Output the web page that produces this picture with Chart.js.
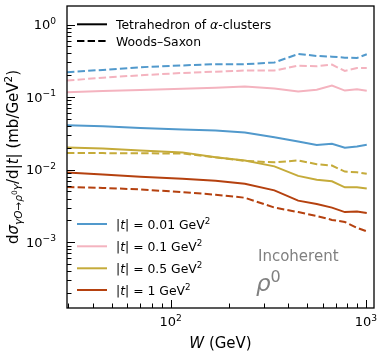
<!DOCTYPE html>
<html>
<head>
<meta charset="utf-8">
<script src="https://cdn.jsdelivr.net/npm/chart.js@4.4.1/dist/chart.umd.min.js"></script>
<style>
    html, body { margin: 0; padding: 0; background: #fff; }
</style>
</head>
<body>
<canvas id="chart" width="380" height="358"></canvas>
<script>
// photon-nucleon energy W (GeV)
const energies = [29.5, 45, 70, 115, 170, 240, 340, 450, 560, 670, 780, 900, 1010];

// tetrahedron of alpha-clusters (solid)
const tetra001 = [0.041, 0.0395, 0.0375, 0.0357, 0.0346, 0.0325, 0.028, 0.0244, 0.0218, 0.0227, 0.020, 0.0209, 0.022];
const tetra01 = [0.117, 0.121, 0.125, 0.130, 0.135, 0.140, 0.131, 0.119, 0.126, 0.144, 0.123, 0.128, 0.122];
const tetra05 = [0.0202, 0.0195, 0.0184, 0.0173, 0.0148, 0.0134, 0.0111, 0.0082, 0.00726, 0.0069, 0.0057, 0.0057, 0.0055];
const tetra1 = [0.00916, 0.0086, 0.0080, 0.0075, 0.00703, 0.0064, 0.00518, 0.00374, 0.00337, 0.0030, 0.0026, 0.00265, 0.00253];

// Woods-Saxon (dashed)
const ws001 = [0.22, 0.237, 0.258, 0.273, 0.284, 0.284, 0.30, 0.393, 0.369, 0.361, 0.349, 0.346, 0.389];
const ws01 = [0.169, 0.185, 0.20, 0.215, 0.224, 0.232, 0.232, 0.271, 0.266, 0.28, 0.229, 0.252, 0.252];
const ws05 = [0.0169, 0.0169, 0.0168, 0.0167, 0.0148, 0.0132, 0.0126, 0.0134, 0.0119, 0.0114, 0.0094, 0.0092, 0.0088];
const ws1 = [0.00576, 0.0056, 0.00534, 0.0049, 0.00452, 0.0041, 0.0030, 0.0026, 0.0023, 0.00203, 0.0019, 0.00158, 0.00141];

const tLabels = ['0.01', '0.1', '0.5', '1'];
const colors = ['#5199cc', '#f4b3bf', '#c5ab3a', '#b5410f'];
const xTickExps = [2, 3];
const yTickExps = [-3, -2, -1, 0];

const FONT = '"DejaVu Sans", sans-serif';

function pts(ys) {
    return energies.map((w, i) => ({ x: w, y: ys[i] }));
}

const solids = [tetra001, tetra01, tetra05, tetra1];
const dashes = [ws001, ws01, ws05, ws1];
const datasets = [];
for (let i = 0; i < 4; i++) {
    datasets.push({ label: 'tetra ' + tLabels[i], data: pts(solids[i]), borderColor: colors[i], borderWidth: 2, pointRadius: 0 });
    datasets.push({ label: 'ws ' + tLabels[i], data: pts(dashes[i]), borderColor: colors[i], borderWidth: 2, pointRadius: 0, borderDash: [7.4, 3.2] });
}

// draw a run of text pieces with different fonts / offsets
function drawRuns(ctx, x, y, runs, align) {
    let total = 0;
    for (const r of runs) {
        ctx.font = r.font;
        total += ctx.measureText(r.t).width;
    }
    let cx = x;
    if (align === 'center') cx = x - total / 2;
    if (align === 'right') cx = x - total;
    ctx.textAlign = 'left';
    ctx.textBaseline = 'alphabetic';
    for (const r of runs) {
        ctx.font = r.font;
        ctx.fillText(r.t, cx, y + (r.dy || 0));
        cx += ctx.measureText(r.t).width;
    }
}

function pow10Runs(e, size) {
    const exp = e < 0 ? '\u2212' + Math.abs(e) : String(e);
    return [
        { t: '10', font: size + 'px ' + FONT },
        { t: exp, font: (size * 0.7) + 'px ' + FONT, dy: -size * 0.42 }
    ];
}

const decorations = {
    id: 'decorations',
    afterDraw(chart) {
        const ctx = chart.ctx;
        const a = chart.chartArea;
        const xs = chart.scales.x;
        const ys = chart.scales.y;
        ctx.save();
        ctx.strokeStyle = '#000';
        ctx.fillStyle = '#000';
        ctx.setLineDash([]);

        // inward ticks
        ctx.lineWidth = 1;
        for (let k = -4; k <= 0; k++) {
            for (let m = 1; m <= 9; m++) {
                const v = m * Math.pow(10, k);
                if (v < ys.min || v > ys.max) continue;
                const py = Math.round(ys.getPixelForValue(v)) + 0.5;
                const len = m === 1 ? 8 : 4.5;
                ctx.beginPath();
                ctx.moveTo(a.left, py);
                ctx.lineTo(a.left + len, py);
                ctx.stroke();
            }
        }
        for (let k = 1; k <= 3; k++) {
            for (let m = 1; m <= 9; m++) {
                const v = m * Math.pow(10, k);
                if (v < xs.min || v > xs.max) continue;
                const px = Math.round(xs.getPixelForValue(v)) + 0.5;
                const len = m === 1 ? 8 : 4.5;
                ctx.beginPath();
                ctx.moveTo(px, a.bottom);
                ctx.lineTo(px, a.bottom - len);
                ctx.stroke();
            }
        }

        // frame
        ctx.lineWidth = 1.3;
        ctx.strokeRect(a.left, a.top, a.right - a.left, a.bottom - a.top);

        // tick labels
        for (const e of yTickExps) {
            const py = ys.getPixelForValue(Math.pow(10, e));
            drawRuns(ctx, 56, py + 4.5, pow10Runs(e, 13), 'right');
        }
        for (const e of xTickExps) {
            const px = xs.getPixelForValue(Math.pow(10, e));
            drawRuns(ctx, px, 326, pow10Runs(e, 13), 'center');
        }

        // axis titles
        const mid = (a.left + a.right) / 2;
        drawRuns(ctx, mid, 348, [
            { t: 'W', font: 'italic 15px ' + FONT },
            { t: ' (GeV)', font: '15px ' + FONT }
        ], 'center');

        ctx.save();
        ctx.translate(18, (a.top + a.bottom) / 2);
        ctx.rotate(-Math.PI / 2);
        drawRuns(ctx, 0, 0, [
            { t: 'd', font: '15px ' + FONT },
            { t: '\u03c3', font: 'italic 15px ' + FONT },
            { t: '\u03b3O', font: 'italic 10.5px ' + FONT, dy: 3.5 },
            { t: '\u2192', font: '10.5px ' + FONT, dy: 3.5 },
            { t: '\u03c1', font: 'italic 10.5px ' + FONT, dy: 3.5 },
            { t: '0', font: '7.5px ' + FONT, dy: -1 },
            { t: 'Y', font: 'italic 10.5px ' + FONT, dy: 3.5 },
            { t: '/d|', font: '15px ' + FONT },
            { t: 't', font: 'italic 15px ' + FONT },
            { t: '| (mb/GeV', font: '15px ' + FONT },
            { t: '2', font: '10.5px ' + FONT, dy: -6 },
            { t: ')', font: '15px ' + FONT }
        ], 'center');
        ctx.restore();

        // model legend
        ctx.lineWidth = 2;
        ctx.strokeStyle = '#000';
        const modelRows = [
            { y: 24.3, dash: [], runs: [
                { t: 'Tetrahedron of ', font: '12.4px ' + FONT },
                { t: '\u03b1', font: 'italic 12.4px ' + FONT },
                { t: '-clusters', font: '12.4px ' + FONT }
            ] },
            { y: 41, dash: [7.4, 3.2], runs: [
                { t: 'Woods\u2013Saxon', font: '12.4px ' + FONT }
            ] }
        ];
        for (const r of modelRows) {
            ctx.setLineDash(r.dash);
            ctx.beginPath();
            ctx.moveTo(77, r.y);
            ctx.lineTo(107, r.y);
            ctx.stroke();
            ctx.setLineDash([]);
            drawRuns(ctx, 116, r.y + 4.5, r.runs, 'left');
        }

        // |t| legend
        const rowY = [224, 246.3, 268.3, 290];
        for (let i = 0; i < 4; i++) {
            ctx.strokeStyle = colors[i];
            ctx.beginPath();
            ctx.moveTo(77, rowY[i]);
            ctx.lineTo(107, rowY[i]);
            ctx.stroke();
            ctx.fillStyle = '#000';
            drawRuns(ctx, 116, rowY[i] + 4.5, [
                { t: '|', font: '12.4px ' + FONT },
                { t: 't', font: 'italic 12.4px ' + FONT },
                { t: '| = ' + tLabels[i] + ' GeV', font: '12.4px ' + FONT },
                { t: '2', font: '8.7px ' + FONT, dy: -5 }
            ], 'left');
        }

        // annotation
        ctx.fillStyle = '#808080';
        drawRuns(ctx, 258, 260.5, [{ t: 'Incoherent', font: '15px ' + FONT }], 'left');
        drawRuns(ctx, 256, 291, [
            { t: '\u03c1', font: 'italic 23px ' + FONT },
            { t: '0', font: '16px ' + FONT, dy: -9 }
        ], 'left');

        ctx.restore();
    }
};

new Chart(document.getElementById('chart').getContext('2d'), {
    type: 'line',
    data: { datasets: datasets },
    options: {
        responsive: false,
        animation: false,
        layout: { padding: { top: 6, right: 6, left: 0, bottom: 0 } },
        plugins: { legend: { display: false }, tooltip: { enabled: false } },
        elements: { line: { tension: 0 } },
        scales: {
            x: {
                type: 'logarithmic',
                min: 29.5,
                max: 1100,
                grid: { display: false, drawTicks: false },
                border: { display: false },
                ticks: { display: false },
                afterFit: (s) => { s.height = 50; }
            },
            y: {
                type: 'logarithmic',
                min: 1.24e-4,
                max: 1.8,
                grid: { display: false, drawTicks: false },
                border: { display: false },
                ticks: { display: false },
                afterFit: (s) => { s.width = 67; }
            }
        }
    },
    plugins: [decorations]
});
</script>
</body>
</html>
